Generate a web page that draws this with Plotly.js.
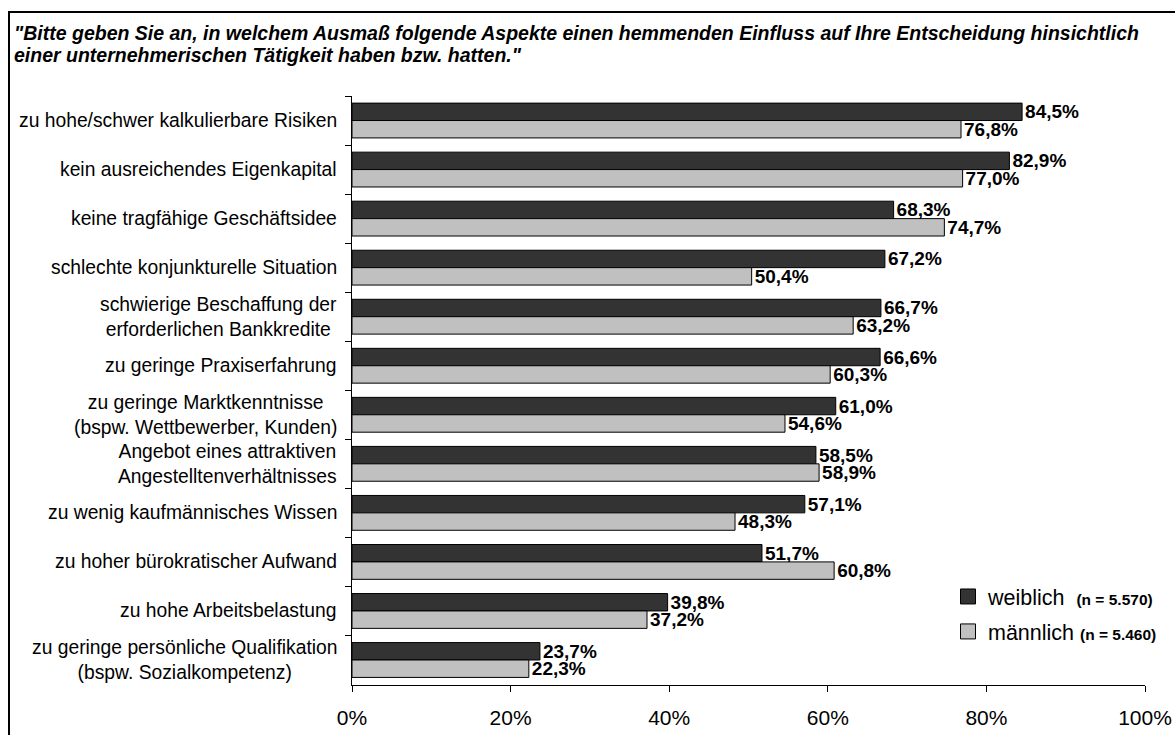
<!DOCTYPE html>
<html>
<head>
<meta charset="utf-8">
<script src="https://cdn.plot.ly/plotly-3.0.1.min.js"></script>
<style>
html,body{margin:0;padding:0;background:#fff;overflow:hidden;}
#wrap{position:relative;width:1175px;height:735px;}
#chart{width:1175px;height:735px;}
#frame{position:absolute;left:8px;top:11px;width:1300px;height:900px;border-left:2.5px solid #000;border-top:2.5px solid #000;pointer-events:none;}
</style>
</head>
<body>
<div id="wrap"><div id="chart"></div><div id="frame"></div></div>
<script>
const categories = [
  "zu hohe/schwer kalkulierbare Risiken",
  "kein ausreichendes Eigenkapital",
  "keine tragfähige Geschäftsidee",
  "schlechte konjunkturelle Situation",
  "schwierige Beschaffung der<br>erforderlichen Bankkredite",
  "zu geringe Praxiserfahrung",
  "zu geringe Marktkenntnisse<br>(bspw. Wettbewerber, Kunden)",
  "Angebot eines attraktiven<br>Angestelltenverhältnisses",
  "zu wenig kaufmännisches Wissen",
  "zu hoher bürokratischer Aufwand",
  "zu hohe Arbeitsbelastung",
  "zu geringe persönliche Qualifikation<br>(bspw. Sozialkompetenz)"
];
const weiblich = [84.5, 82.9, 68.3, 67.2, 66.7, 66.6, 61.0, 58.5, 57.1, 51.7, 39.8, 23.7];
const maennlich = [76.8, 77.0, 74.7, 50.4, 63.2, 60.3, 54.6, 58.9, 48.3, 60.8, 37.2, 22.3];
const seriesNames = [
  'weiblich  <b><span style="font-size:15.5px">(n = 5.570)</span></b>',
  'männlich <b><span style="font-size:15.5px">(n = 5.460)</span></b>'
];
const xTickVals = [0, 20, 40, 60, 80, 100];
const xTickText = ["0%", "20%", "40%", "60%", "80%", "100%"];
const titleLines = [
  '"Bitte geben Sie an, in welchem Ausmaß folgende Aspekte einen hemmenden Einfluss auf Ihre Entscheidung hinsichtlich',
  'einer unternehmerischen Tätigkeit haben bzw. hatten."'
];

const font = "Arial, 'Liberation Sans', sans-serif";
const colors = ['#333333', '#c0c0c0'];

function barTrace(vals, name, color) {
  return {
    type: 'bar', orientation: 'h',
    x: vals, y: categories, name: name, showlegend: false,
    marker: {color: color, line: {color: '#000', width: 1}},
    text: vals, texttemplate: '%{x:.1f}%', textposition: 'outside',
    constraintext: 'none', cliponaxis: false,
    textfont: {family: font, size: 19, color: '#000', weight: 'bold'},
    hoverinfo: 'skip'
  };
}
function legendTrace(name, color, grp) {
  return {
    type: 'scatter', mode: 'markers', x: [null], y: [null],
    name: name, legendgroup: grp, showlegend: true,
    marker: {symbol: 'square', size: 15, color: color, line: {color: '#000', width: 1}},
    hoverinfo: 'skip'
  };
}

const data = [
  barTrace(weiblich, seriesNames[0], colors[0]),
  barTrace(maennlich, seriesNames[1], colors[1]),
  legendTrace(seriesNames[0], colors[0], 'w'),
  legendTrace(seriesNames[1], colors[1], 'm')
];

const L = 352, R = 30, T = 96, B = 50;
const pw = 1175 - L - R, ph = 735 - T - B;
const px = v => (v - L) / pw;
const py = v => (735 - B - v) / ph;

const annotations = categories.map(c => ({
  xref: 'paper', yref: 'y', x: px(339), y: c,
  xanchor: 'right', yanchor: 'middle', align: 'center',
  text: c, showarrow: false,
  font: {family: font, size: 19.3, color: '#000'}
}));
titleLines.forEach((t, i) => annotations.push({
  xref: 'paper', yref: 'paper', x: px(12), y: py(33 + 22 * i),
  xanchor: 'left', yanchor: 'middle', align: 'left', showarrow: false,
  text: '<b><i>' + t + '</i></b>',
  font: {family: font, size: 19.5, color: '#000'}
}));

const layout = {
  width: 1175, height: 735,
  margin: {l: L, r: R, t: T, b: B, pad: 0},
  paper_bgcolor: '#fff', plot_bgcolor: '#fff',
  separators: ',.',
  font: {family: font, color: '#000'},
  barmode: 'group', bargap: 0.29, bargroupgap: 0,
  xaxis: {range: [0, 100], tickvals: xTickVals, ticktext: xTickText,
          showline: true, linecolor: '#000', linewidth: 1,
          ticks: 'outside', ticklen: 6, tickcolor: '#000', tickwidth: 1,
          ticklabelstandoff: 8,
          showgrid: false, zeroline: false,
          tickfont: {family: font, size: 21, color: '#000'}, fixedrange: true},
  yaxis: {type: 'category', autorange: 'reversed', showticklabels: false,
          showline: true, linecolor: '#000', linewidth: 1,
          ticks: 'outside', ticklen: 6, tickcolor: '#000', tickson: 'boundaries',
          showgrid: false, zeroline: false, fixedrange: true},
  legend: {x: px(948), y: py(576), xanchor: 'left', yanchor: 'top',
           bgcolor: 'rgba(0,0,0,0)', traceorder: 'grouped',
           font: {family: font, size: 21.5, color: '#000'},
           itemwidth: 30, tracegroupgap: 4},
  showlegend: true,
  annotations: annotations
};

Plotly.newPlot('chart', data, layout, {displayModeBar: false, staticPlot: true});
</script>
</body>
</html>
